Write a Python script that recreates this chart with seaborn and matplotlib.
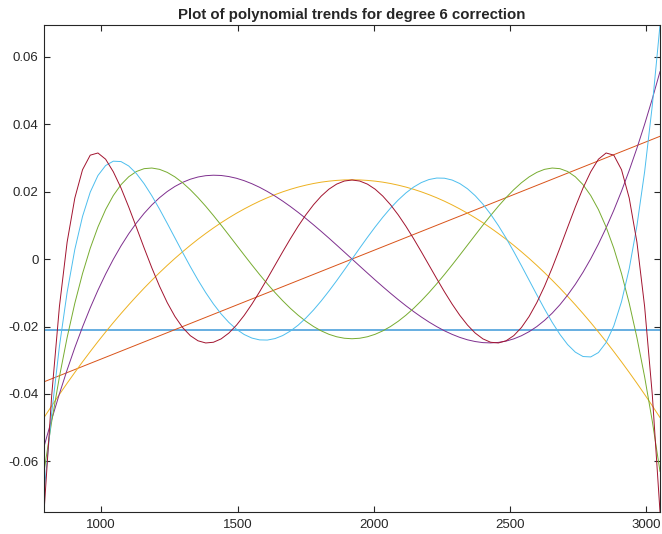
import matplotlib
matplotlib.use('Agg')
import matplotlib.pyplot as plt
import seaborn as sns

# sample positions along the x axis
x_grid = [790, 818.25, 846.5, 874.75, 903, 931.25, 959.5, 987.75, 1016, 1044.25,
          1072.5, 1100.75, 1129, 1157.25, 1185.5, 1213.75, 1242, 1270.25, 1298.5, 1326.75,
          1355, 1383.25, 1411.5, 1439.75, 1468, 1496.25, 1524.5, 1552.75, 1581, 1609.25,
          1637.5, 1665.75, 1694, 1722.25, 1750.5, 1778.75, 1807, 1835.25, 1863.5, 1891.75,
          1920, 1948.25, 1976.5, 2004.75, 2033, 2061.25, 2089.5, 2117.75, 2146, 2174.25,
          2202.5, 2230.75, 2259, 2287.25, 2315.5, 2343.75, 2372, 2400.25, 2428.5, 2456.75,
          2485, 2513.25, 2541.5, 2569.75, 2598, 2626.25, 2654.5, 2682.75, 2711, 2739.25,
          2767.5, 2795.75, 2824, 2852.25, 2880.5, 2908.75, 2937, 2965.25, 2993.5, 3021.75,
          3050]

# degree 0 and 1 trends (straight lines)
x_ends = [790, 3050]
deg0 = [-0.021, -0.021]
deg1 = [-0.0364, 0.0364]

deg2 = [-0.047, -0.04352, -0.04013, -0.03682, -0.03361, -0.03048, -0.02744, -0.02448, -0.02162, -0.01884,
        -0.01616, -0.01356, -0.01105, -0.00862, -0.00629, -0.00404, -0.00188, 0.00019, 0.00217, 0.00407,
        0.00588, 0.00759, 0.00922, 0.01077, 0.01222, 0.01359, 0.01486, 0.01605, 0.01716, 0.01817,
        0.01909, 0.01993, 0.02068, 0.02134, 0.02191, 0.0224, 0.0228, 0.0231, 0.02332, 0.02346,
        0.0235, 0.02346, 0.02332, 0.0231, 0.0228, 0.0224, 0.02191, 0.02134, 0.02068, 0.01993,
        0.01909, 0.01817, 0.01716, 0.01605, 0.01486, 0.01359, 0.01222, 0.01077, 0.00922, 0.00759,
        0.00588, 0.00407, 0.00217, 0.00019, -0.00188, -0.00404, -0.00629, -0.00862, -0.01105, -0.01356,
        -0.01616, -0.01884, -0.02162, -0.02448, -0.02744, -0.03048, -0.03361, -0.03682, -0.04013, -0.04352,
        -0.047]

deg3 = [-0.0556, -0.04752, -0.03995, -0.03287, -0.02627, -0.02014, -0.01447, -0.00925, -0.00445, -0.00007,
        0.00391, 0.0075, 0.0107, 0.01355, 0.01604, 0.01819, 0.02002, 0.02153, 0.02274, 0.02367,
        0.02433, 0.02472, 0.02486, 0.02478, 0.02446, 0.02395, 0.02323, 0.02233, 0.02127, 0.02004,
        0.01868, 0.01718, 0.01557, 0.01385, 0.01204, 0.01015, 0.0082, 0.0062, 0.00415, 0.00208,
        0.0, -0.00208, -0.00415, -0.0062, -0.0082, -0.01015, -0.01204, -0.01385, -0.01557, -0.01718,
        -0.01868, -0.02004, -0.02127, -0.02233, -0.02323, -0.02395, -0.02446, -0.02478, -0.02486, -0.02472,
        -0.02433, -0.02367, -0.02274, -0.02153, -0.02002, -0.01819, -0.01604, -0.01355, -0.0107, -0.0075,
        -0.00391, 0.00007, 0.00445, 0.00925, 0.01447, 0.02014, 0.02627, 0.03287, 0.03995, 0.04752,
        0.0556]

deg4 = [-0.063, -0.04812, -0.03491, -0.02327, -0.0131, -0.00431, 0.00319, 0.00949, 0.01468, 0.01884,
        0.02206, 0.0244, 0.02596, 0.0268, 0.02699, 0.0266, 0.0257, 0.02436, 0.02262, 0.02055,
        0.01821, 0.01565, 0.01291, 0.01006, 0.00712, 0.00415, 0.00118, -0.00175, -0.0046, -0.00734,
        -0.00994, -0.01237, -0.01462, -0.01665, -0.01845, -0.02, -0.02129, -0.02231, -0.02304, -0.02348,
        -0.02363, -0.02348, -0.02304, -0.02231, -0.02129, -0.02, -0.01845, -0.01665, -0.01462, -0.01237,
        -0.00994, -0.00734, -0.0046, -0.00175, 0.00118, 0.00415, 0.00712, 0.01006, 0.01291, 0.01565,
        0.01821, 0.02055, 0.02262, 0.02436, 0.0257, 0.0266, 0.02699, 0.0268, 0.02596, 0.0244,
        0.02206, 0.01884, 0.01468, 0.00949, 0.00319, -0.00431, -0.0131, -0.02327, -0.03491, -0.04812,
        -0.063]

deg5 = [-0.0694, -0.04558, -0.02587, -0.00986, 0.00286, 0.01263, 0.01983, 0.02476, 0.02773, 0.02902,
        0.0289, 0.0276, 0.02535, 0.02234, 0.01877, 0.01481, 0.01059, 0.00627, 0.00196, -0.00224,
        -0.00624, -0.00995, -0.01331, -0.01627, -0.01878, -0.02083, -0.02238, -0.02343, -0.02397, -0.02402,
        -0.02358, -0.02268, -0.02134, -0.01961, -0.01751, -0.0151, -0.01241, -0.0095, -0.00643, -0.00324,
        0.0, 0.00324, 0.00643, 0.0095, 0.01241, 0.0151, 0.01751, 0.01961, 0.02134, 0.02268,
        0.02358, 0.02402, 0.02397, 0.02343, 0.02238, 0.02083, 0.01878, 0.01627, 0.01331, 0.00995,
        0.00624, 0.00224, -0.00196, -0.00627, -0.01059, -0.01481, -0.01877, -0.02234, -0.02535, -0.0276,
        -0.0289, -0.02902, -0.02773, -0.02476, -0.01983, -0.01263, -0.00286, 0.00986, 0.02587, 0.04558,
        0.0694]

deg6 = [-0.075, -0.0403, -0.01406, 0.00502, 0.01809, 0.02648, 0.0308, 0.03145, 0.0296, 0.02587,
        0.02106, 0.01543, 0.0094, 0.00329, -0.0026, -0.00806, -0.01291, -0.01702, -0.02031, -0.02272,
        -0.02424, -0.02488, -0.02467, -0.02367, -0.02195, -0.01959, -0.01669, -0.01335, -0.00969, -0.00581,
        -0.00182, 0.00216, 0.00604, 0.00972, 0.0131, 0.0161, 0.01866, 0.02072, 0.02222, 0.02313,
        0.02344, 0.02313, 0.02222, 0.02072, 0.01866, 0.0161, 0.0131, 0.00972, 0.00604, 0.00216,
        -0.00182, -0.00581, -0.00969, -0.01335, -0.01669, -0.01959, -0.02195, -0.02367, -0.02467, -0.02488,
        -0.02424, -0.02272, -0.02031, -0.01702, -0.01291, -0.00806, -0.0026, 0.00329, 0.0094, 0.01543,
        0.02106, 0.02587, 0.0296, 0.03145, 0.0308, 0.02648, 0.01809, 0.00502, -0.01406, -0.0403,
        -0.075]

x_ticks = [1000, 1500, 2000, 2500, 3000]
y_ticks = [-0.06, -0.04, -0.02, 0, 0.02, 0.04, 0.06]
y_tick_labels = ['-0.06', '-0.04', '-0.02', '0', '0.02', '0.04', '0.06']

sns.set_style('white')
plt.rcParams['font.family'] = ['Liberation Sans', 'DejaVu Sans']

fig = plt.figure(figsize=(6.62, 5.34), dpi=100)
ax = fig.add_axes([0.0665, 0.0412, 0.9305, 0.912])

# MATLAB default line colours, degree 0 drawn thicker
sns.lineplot(x=x_ends, y=deg0, color='#5aa8de', linewidth=1.3, ax=ax)
sns.lineplot(x=x_ends, y=deg1, color='#D95319', linewidth=0.7, ax=ax)
sns.lineplot(x=x_grid, y=deg2, color='#EDB120', linewidth=0.7, ax=ax)
sns.lineplot(x=x_grid, y=deg3, color='#7E2F8E', linewidth=0.7, ax=ax)
sns.lineplot(x=x_grid, y=deg4, color='#77AC30', linewidth=0.7, ax=ax)
sns.lineplot(x=x_grid, y=deg5, color='#4DBEEE', linewidth=0.7, ax=ax)
sns.lineplot(x=x_grid, y=deg6, color='#A2142F', linewidth=0.7, ax=ax)

ax.set_xlim(790, 3050)
ax.set_ylim(-0.075, 0.0694)
ax.set_xticks(x_ticks)
ax.set_xticklabels([str(v) for v in x_ticks])
ax.set_yticks(y_ticks)
ax.set_yticklabels(y_tick_labels)

for side in ax.spines.values():
    side.set_color('#262626')
    side.set_linewidth(0.8)
ax.tick_params(direction='in', length=4, width=0.8, color='#262626',
               labelsize=9.5, labelcolor='#262626',
               top=True, right=True, bottom=True, left=True)
ax.tick_params(axis='x', pad=5)
ax.tick_params(axis='y', pad=4)

ax.set_title('Plot of polynomial trends for degree 6 correction',
             fontsize=10.8, fontweight='bold', pad=4)

fig.savefig('out.png', dpi=100)
